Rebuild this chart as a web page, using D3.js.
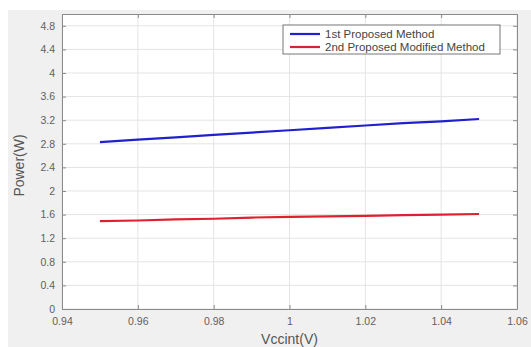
<!DOCTYPE html>
<html>
<head>
<meta charset="utf-8">
<script src="https://cdn.jsdelivr.net/npm/d3@7"></script>
<style>
  body { margin: 0; background: #fff; }
  text { font-family: "Liberation Sans", Arial, sans-serif; }
</style>
</head>
<body>
<div id="chart"></div>
<script>
// Data
let vccint = [0.95, 0.96, 0.97, 0.98, 0.99, 1.00, 1.01, 1.02, 1.03, 1.04, 1.05];
let firstMethod = [2.83, 2.87, 2.91, 2.95, 2.99, 3.03, 3.07, 3.11, 3.15, 3.18, 3.22];
let secondMethod = [1.49, 1.50, 1.52, 1.53, 1.55, 1.56, 1.57, 1.58, 1.59, 1.60, 1.61];
let seriesNames = ['1st Proposed Method', '2nd Proposed Modified Method'];
let seriesColors = ['#2020d0', '#e02030'];
let xTicks = [0.94, 0.96, 0.98, 1.00, 1.02, 1.04, 1.06];
let yTicks = [0, 0.4, 0.8, 1.2, 1.6, 2, 2.4, 2.8, 3.2, 3.6, 4, 4.4, 4.8];

let width = 531, height = 347;
let margin = {top: 14, right: 14, bottom: 38, left: 62};

let svg = d3.select('#chart')
  .append('svg')
  .attr('width', width)
  .attr('height', height);

// figure background
svg.append('rect')
  .attr('x', 8).attr('y', 10)
  .attr('width', width - 8).attr('height', height - 10)
  .attr('fill', '#f0f0f0');

let xScale = d3.scaleLinear()
  .domain([0.94, 1.06])
  .range([margin.left, width - margin.right]);

let yScale = d3.scaleLinear()
  .domain([0, 5])
  .range([height - margin.bottom, margin.top]);

let x0 = xScale.range()[0], x1 = xScale.range()[1];
let y0 = yScale.range()[0], y1 = yScale.range()[1];

// plot area
svg.append('rect')
  .attr('x', x0).attr('y', y1)
  .attr('width', x1 - x0).attr('height', y0 - y1)
  .attr('fill', '#fff');

// grid
svg.append('g')
  .selectAll('line')
  .data(xTicks)
  .enter().append('line')
  .attr('x1', d => xScale(d)).attr('x2', d => xScale(d))
  .attr('y1', y0).attr('y2', y1)
  .attr('stroke', '#e4e4e4').attr('stroke-width', 1);

svg.append('g')
  .selectAll('line')
  .data(yTicks)
  .enter().append('line')
  .attr('x1', x0).attr('x2', x1)
  .attr('y1', d => yScale(d)).attr('y2', d => yScale(d))
  .attr('stroke', '#e4e4e4').attr('stroke-width', 1);

// axes (ticks pointing inward, box on)
let fmtX = d => d3.format('.2f')(d).replace(/0+$/, '').replace(/\.$/, '');
let fmtY = d => d3.format('.1f')(d).replace(/\.0$/, '');

function styleAxis(g) {
  g.select('.domain').attr('stroke', '#8a8a8a');
  g.selectAll('.tick line').attr('stroke', '#8a8a8a');
  g.selectAll('.tick text').attr('fill', '#606060').style('font-size', '10.5px');
}

svg.append('g')
  .attr('transform', `translate(0,${y0})`)
  .call(d3.axisBottom(xScale).tickValues(xTicks).tickFormat(fmtX).tickSizeInner(-4).tickSizeOuter(0).tickPadding(9))
  .call(styleAxis);

svg.append('g')
  .attr('transform', `translate(0,${y1})`)
  .call(d3.axisTop(xScale).tickValues(xTicks).tickFormat('').tickSizeInner(-4).tickSizeOuter(0))
  .call(styleAxis);

svg.append('g')
  .attr('transform', `translate(${x0},0)`)
  .call(d3.axisLeft(yScale).tickValues(yTicks).tickFormat(fmtY).tickSizeInner(-4).tickSizeOuter(0).tickPadding(7))
  .call(styleAxis);

svg.append('g')
  .attr('transform', `translate(${x1},0)`)
  .call(d3.axisRight(yScale).tickValues(yTicks).tickFormat('').tickSizeInner(-4).tickSizeOuter(0))
  .call(styleAxis);

// axis labels
svg.append('text')
  .attr('x', (x0 + x1) / 2)
  .attr('y', 344)
  .attr('text-anchor', 'middle')
  .attr('fill', '#555')
  .style('font-size', '14px')
  .text('Vccint(V)');

svg.append('text')
  .attr('transform', `translate(24,${(y0 + y1) / 2 + 4}) rotate(-90)`)
  .attr('text-anchor', 'middle')
  .attr('fill', '#555')
  .style('font-size', '14px')
  .text('Power(W)');

// lines
let series = [firstMethod, secondMethod];
let line = d3.line()
  .x((d, i) => xScale(vccint[i]))
  .y(d => yScale(d));

svg.selectAll('path.series')
  .data(series)
  .enter().append('path')
  .attr('class', 'series')
  .attr('d', line)
  .attr('fill', 'none')
  .attr('stroke', (d, i) => seriesColors[i])
  .attr('stroke-width', 2.2);

// legend
let legend = svg.append('g').attr('transform', 'translate(283,25)');
legend.append('rect')
  .attr('width', 217).attr('height', 29)
  .attr('fill', '#fff')
  .attr('stroke', '#777').attr('stroke-width', 1);

let items = legend.selectAll('g.item')
  .data(seriesNames)
  .enter().append('g')
  .attr('class', 'item')
  .attr('transform', (d, i) => `translate(0,${9 + i * 13})`);

items.append('line')
  .attr('x1', 7).attr('x2', 37)
  .attr('stroke', (d, i) => seriesColors[i])
  .attr('stroke-width', 2.2);

items.append('text')
  .attr('x', 42).attr('y', 4)
  .attr('fill', '#444')
  .style('font-size', '11.5px')
  .text(d => d);
</script>
</body>
</html>
